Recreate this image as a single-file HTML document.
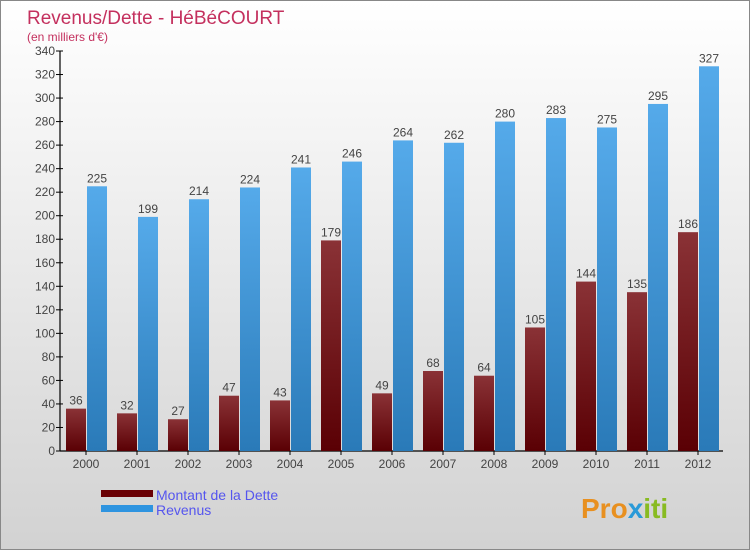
<!DOCTYPE html>
<html><head><meta charset="utf-8"><style>
body{margin:0}
#c{width:750px;height:550px;position:relative;font-family:"Liberation Sans",sans-serif;background:linear-gradient(#ffffff,#d2d2d2);box-sizing:border-box;border:1px solid #888;overflow:hidden}
svg text{font-family:"Liberation Sans",sans-serif}
</style></head><body>
<div id="c">
<svg id="s" width="750" height="550">
<defs>
<linearGradient id="gd" x1="0" y1="0" x2="0" y2="1"><stop offset="0" stop-color="#8a3236"/><stop offset="1" stop-color="#5a0004"/></linearGradient>
<linearGradient id="gr" x1="0" y1="0" x2="0" y2="1"><stop offset="0" stop-color="#55aaea"/><stop offset="1" stop-color="#2a7ab8"/></linearGradient>
</defs>
<text x="26" y="23" font-size="19" fill="#c4305e">Revenus/Dette - HéBéCOURT</text>
<text x="26" y="40" font-size="12" fill="#c4305e">(en milliers d'€)</text>
<g id="plot"></g>
<rect x="100" y="489" width="52" height="7" fill="#6a0004"/>
<text x="155" y="499" font-size="14" fill="#5555ee">Montant de la Dette</text>
<rect x="100" y="504" width="52" height="7" fill="#2e94e0"/>
<text x="155" y="514" font-size="14" fill="#5555ee">Revenus</text>
<text x="580" y="517" font-size="28" font-weight="bold" fill="#e89020">Pro<tspan fill="#2a9ad8">x</tspan><tspan fill="#88bb22">iti</tspan></text>
</svg>
<script>
const years=["2000","2001","2002","2003","2004","2005","2006","2007","2008","2009","2010","2011","2012"];
const dette=[36,32,27,47,43,179,49,68,64,105,144,135,186];
const revenus=[225,199,214,224,241,246,264,262,280,283,275,295,327];
const yTicks=[0,20,40,60,80,100,120,140,160,180,200,220,240,260,280,300,320,340];
const NS="http://www.w3.org/2000/svg";
const g=document.getElementById('plot');
const y=v=>450-v*400/340;
const x=i=>85+i*51;
function el(t,a){const e=document.createElementNS(NS,t);for(const k in a)e.setAttribute(k,a[k]);g.appendChild(e);return e;}
let ax=el('line',{x1:59,y1:50,x2:59,y2:450,stroke:'#000','stroke-width':1.2});


let xa=el('line',{x1:59,y1:450,x2:722,y2:450,stroke:'#000','stroke-width':1.2});


yTicks.forEach(t=>{
 let l=el('line',{x1:55,y1:y(t),x2:62,y2:y(t),stroke:'#000'});
 
 
 let tx=el('text',{x:54,y:y(t)+4,'font-size':12,fill:'#444','text-anchor':'end'});
 tx.textContent=t;
 
 
});
years.forEach((yr,i)=>{
 let tk=el('line',{x1:x(i),y1:450,x2:x(i),y2:454,stroke:'#000'});
 
 
 let b=el('rect',{x:x(i)-20,y:y(dette[i]),width:20,height:450-y(dette[i]),fill:'url(#gd)'});
 
 
 let r=el('rect',{x:x(i)+1,y:y(revenus[i]),width:20,height:450-y(revenus[i]),fill:'url(#gr)'});
 
 
 let t1=el('text',{x:x(i)-10,y:y(dette[i])-4,'font-size':12,fill:'#444','text-anchor':'middle'});
 t1.textContent=dette[i];
 
 
 let t2=el('text',{x:x(i)+11,y:y(revenus[i])-4,'font-size':12,fill:'#444','text-anchor':'middle'});
 t2.textContent=revenus[i];
 
 
 let xl=el('text',{x:x(i),y:467,'font-size':12,fill:'#444','text-anchor':'middle'});
 xl.textContent=yr;
 
 
});
</script>
</div>
</body></html>
